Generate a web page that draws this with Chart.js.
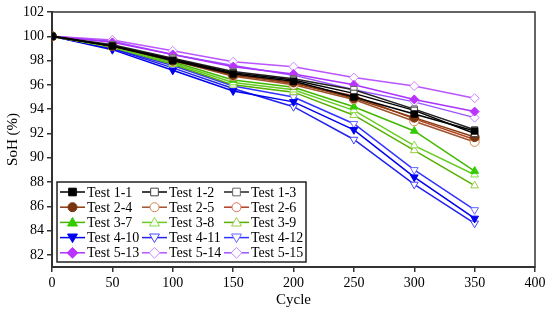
<!DOCTYPE html>
<html><head><meta charset="utf-8">
<script src="https://cdn.jsdelivr.net/npm/chart.js@4.4.1/dist/chart.umd.min.js"></script>
<style>html,body{margin:0;padding:0;background:#fff}canvas{display:block}</style>
</head><body>
<canvas id="c" width="550" height="313" style="width:550px;height:313px"></canvas>
<script>
const cycles = [0, 50, 100, 150, 200, 250, 300, 350];
const xTicks = [0, 50, 100, 150, 200, 250, 300, 350, 400];
const yTicks = [82, 84, 86, 88, 90, 92, 94, 96, 98, 100, 102];
const labels = ["Test 1-1","Test 1-2","Test 1-3","Test 2-4","Test 2-5","Test 2-6","Test 3-7","Test 3-8","Test 3-9","Test 4-10","Test 4-11","Test 4-12","Test 5-13","Test 5-14","Test 5-15"];
const t1_1 = [100, 99.2, 98.0, 96.9, 96.3, 95.0, 93.6, 92.2];
const t1_2 = [100, 99.2, 98.1, 97.0, 96.4, 95.3, 93.9, 92.0];
const t1_3 = [100, 99.3, 98.2, 97.1, 96.5, 95.6, 94.0, 92.3];
const t2_4 = [100, 99.2, 98.0, 96.8, 96.2, 94.9, 93.3, 91.7];
const t2_5 = [100, 99.2, 98.0, 96.7, 96.0, 94.8, 93.0, 91.3];
const t2_6 = [100, 99.2, 98.1, 96.9, 96.1, 95.1, 93.2, 91.5];
const t3_7 = [100, 99.2, 97.9, 96.4, 95.8, 94.2, 92.2, 88.9];
const t3_8 = [100, 99.1, 97.8, 96.2, 95.6, 93.9, 91.0, 88.6];
const t3_9 = [100, 99.1, 97.7, 96.0, 95.4, 93.5, 90.6, 87.7];
const t4_10 = [100, 98.9, 97.2, 95.5, 94.6, 92.3, 88.4, 85.0];
const t4_11 = [100, 99.0, 97.4, 95.7, 94.2, 91.5, 87.8, 84.6];
const t4_12 = [100, 99.0, 97.6, 95.9, 95.0, 92.8, 89.0, 85.7];
const t5_13 = [100, 99.5, 98.5, 97.5, 96.9, 96.0, 94.8, 93.8];
const t5_14 = [100, 99.7, 98.8, 97.9, 97.5, 96.6, 95.9, 94.9];
const t5_15 = [100, 99.6, 98.5, 97.6, 96.8, 95.6, 94.6, 93.3];
const series = [t1_1,t1_2,t1_3,t2_4,t2_5,t2_6,t3_7,t3_8,t3_9,t4_10,t4_11,t4_12,t5_13,t5_14,t5_15];

const styles = [
  {line:'#000000', mk:'#000000', fill:'#000000', shape:'rect', rot:0},
  {line:'#000000', mk:'#444444', fill:'#ffffff', shape:'rect', rot:0},
  {line:'#222222', mk:'#666666', fill:'#ffffff', shape:'rect', rot:0},
  {line:'#8b3a10', mk:'#7a3510', fill:'#7a3510', shape:'circle', rot:0},
  {line:'#a0522d', mk:'#d08850', fill:'#ffffff', shape:'circle', rot:0},
  {line:'#b04020', mk:'#e07055', fill:'#ffffff', shape:'circle', rot:0},
  {line:'#44b800', mk:'#33cc00', fill:'#33cc00', shape:'triangle', rot:0},
  {line:'#66cc22', mk:'#88dd44', fill:'#ffffff', shape:'triangle', rot:0},
  {line:'#55b000', mk:'#99cc44', fill:'#ffffff', shape:'triangle', rot:0},
  {line:'#0000ee', mk:'#0000ee', fill:'#0000ee', shape:'triangle', rot:180},
  {line:'#2222ee', mk:'#4444ff', fill:'#ffffff', shape:'triangle', rot:180},
  {line:'#3333ff', mk:'#6666ff', fill:'#ffffff', shape:'triangle', rot:180},
  {line:'#aa33ff', mk:'#bb33ff', fill:'#bb33ff', shape:'rectRot', rot:0},
  {line:'#bb55ff', mk:'#cc88ff', fill:'#ffffff', shape:'rectRot', rot:0},
  {line:'#9955ff', mk:'#bb88ff', fill:'#ffffff', shape:'rectRot', rot:0}
];

const datasets = series.map((d, i) => ({
  label: labels[i],
  data: cycles.map((c, j) => ({x: c, y: d[j]})),
  borderColor: styles[i].line,
  borderWidth: 1.5,
  pointStyle: styles[i].shape,
  pointRotation: styles[i].rot,
  pointRadius: 4.5,
  pointBorderWidth: 1,
  pointBackgroundColor: styles[i].fill,
  pointBorderColor: styles[i].mk,
  tension: 0,
  fill: false
}));

const FONT = '"Liberation Serif", "Times New Roman", serif';

function drawMarker(ctx, st, x, y, r) {
  ctx.save();
  ctx.translate(x, y);
  ctx.rotate(st.rot * Math.PI / 180);
  ctx.beginPath();
  if (st.shape === 'rect') {
    const s = r * 0.85;
    ctx.rect(-s, -s, 2 * s, 2 * s);
  } else if (st.shape === 'circle') {
    ctx.arc(0, 0, r, 0, Math.PI * 2);
  } else if (st.shape === 'triangle') {
    const h = r * 1.5;
    ctx.moveTo(0, -r * 1.1);
    ctx.lineTo(r * 1.1, r * 0.8);
    ctx.lineTo(-r * 1.1, r * 0.8);
    ctx.closePath();
  } else if (st.shape === 'rectRot') {
    const s = r * 1.2;
    ctx.moveTo(0, -s); ctx.lineTo(s, 0); ctx.lineTo(0, s); ctx.lineTo(-s, 0); ctx.closePath();
  }
  ctx.fillStyle = st.fill; ctx.fill();
  ctx.lineWidth = 1; ctx.strokeStyle = st.mk; ctx.stroke();
  ctx.restore();
}

const framePlugin = {
  id: 'frame',
  beforeDatasetsDraw(chart) {
    const {ctx, chartArea: a} = chart;
    ctx.save();
    ctx.strokeStyle = '#333'; ctx.lineWidth = 1.5;
    ctx.strokeRect(a.left, a.top, a.right - a.left, a.bottom - a.top);
    ctx.restore();
  },
  afterDatasetsDraw(chart) {
    const {ctx, chartArea: a} = chart;
    const bx = a.left + 5, by = a.bottom - 85, bw = 249, bh = 80;
    ctx.save();
    ctx.fillStyle = '#fff'; ctx.fillRect(bx, by, bw, bh);
    ctx.strokeStyle = '#222'; ctx.lineWidth = 1.5; ctx.strokeRect(bx, by, bw, bh);
    ctx.font = '14px ' + FONT; ctx.textBaseline = 'middle'; ctx.fillStyle = '#000';
    for (let i = 0; i < labels.length; i++) {
      const col = i % 3, row = Math.floor(i / 3);
      const x0 = bx + 3 + col * 82, y0 = by + 10 + row * 15.2;
      ctx.strokeStyle = styles[i].line; ctx.lineWidth = 1.5;
      ctx.beginPath(); ctx.moveTo(x0, y0); ctx.lineTo(x0 + 25, y0); ctx.stroke();
      drawMarker(ctx, styles[i], x0 + 12.5, y0, 4.5);
      ctx.fillStyle = '#000';
      ctx.fillText(labels[i], x0 + 27, y0 + 1);
    }
    ctx.restore();
  }
};

new Chart(document.getElementById('c'), {
  type: 'line',
  data: {datasets},
  options: {
    responsive: false,
    animation: false,
    layout: {padding: {top: 12, right: 15, left: 0, bottom: 0}},
    plugins: {legend: {display: false}, tooltip: {enabled: false}},
    scales: {
      x: {
        type: 'linear', min: 0, max: 400,
        afterBuildTicks(s) { s.ticks = xTicks.map(v => ({value: v})); },
        afterFit(s) { s.height = 46; },
        grid: {drawOnChartArea: false, drawTicks: true, tickLength: 5, color: '#333', lineWidth: 1.5},
        border: {color: '#333', width: 2},
        ticks: {color: '#000', font: {family: FONT, size: 14}, padding: 3, maxRotation: 0},
        title: {display: true, text: 'Cycle', color: '#000', font: {family: FONT, size: 15}, padding: {top: 0}}
      },
      y: {
        type: 'linear', min: 81, max: 102,
        afterBuildTicks(s) { s.ticks = yTicks.map(v => ({value: v})); },
        afterFit(s) { s.width = 52; },
        grid: {drawOnChartArea: false, drawTicks: true, tickLength: 5, color: '#333', lineWidth: 1.5},
        border: {color: '#333', width: 2},
        ticks: {color: '#000', font: {family: FONT, size: 14}, padding: 3},
        title: {display: true, text: 'SoH (%)', color: '#000', font: {family: FONT, size: 15}, padding: {bottom: 0}}
      }
    }
  },
  plugins: [framePlugin]
});
</script>
</body></html>
